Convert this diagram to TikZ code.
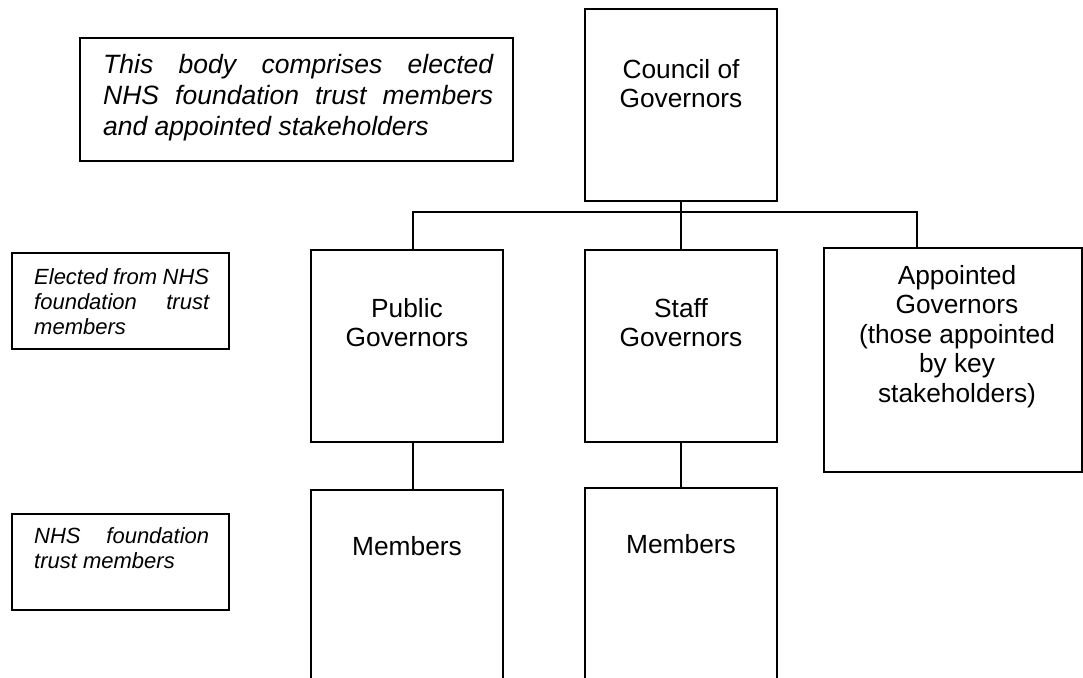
\documentclass[tikz,border=0pt]{standalone}
\usepackage{fontspec}
\setmainfont{Liberation Sans}
\hyphenpenalty=10000
\tolerance=10000
\begin{document}
\begin{tikzpicture}[x=1pt, y=-1pt, line join=miter]
	\tikzset{
	box/.style={draw, line width=2pt, inner sep=0pt, minimum width=192pt},
	link/.style={line width=1.7pt},
	lbl/.style={anchor=north, align=center, inner sep=0pt, font=\fontsize{26.3}{29.5}\selectfont},
	note/.style={anchor=north west, align=justify, inner sep=0pt, text width=175pt, font=\itshape\fontsize{22}{25}\selectfont}
	}
	\useasboundingbox (0,0) rectangle (1083,677);
	\node[box, minimum width=433pt, minimum height=123pt] (bodynote) at (296.5,99.5) {};
	\node[box, minimum width=217pt, minimum height=96pt] (electnote) at (120.5,301) {};
	\node[box, minimum width=217pt, minimum height=96pt] (membnote) at (120.5,562) {};
	\node[box, minimum height=191pt] (council) at (681,105) {};
	\node[box, minimum height=192pt] (public) at (407,346) {};
	\node[box, minimum height=192pt] (staff) at (681,346) {};
	\node[box, minimum width=258pt, minimum height=224pt] (appointed) at (953,360) {};
	\node[box, minimum height=200pt] (membersL) at (407,590) {};
	\node[box, minimum height=202pt] (membersR) at (681,589) {};
	\node[note, font=\itshape\fontsize{26.5}{31}\selectfont, text width=390pt] (bodytext) at (103,54) {This body comprises elected\linebreak NHS foundation trust members\linebreak and appointed stakeholders};
	\node[note] (electtext) at (34,268) {Elected from NHS\linebreak foundation trust\linebreak members};
	\node[note] (membtext) at (34,527) {NHS foundation\linebreak trust members};
	\node[lbl] (councilT) at (681,59) {Council of\\Governors};
	\node[lbl] (publicT) at (407,298) {Public\\Governors};
	\node[lbl] (staffT) at (681,298) {Staff\\Governors};
	\node[lbl] (appointedT) at (957,265) {Appointed\\Governors\\(those appointed\\by key\\stakeholders)};
	\node[lbl] (membersLT) at (407,536) {Members};
	\node[lbl] (membersRT) at (681,534) {Members};
	\coordinate (busL) at (413,212);
	\coordinate (busR) at (917,212);
	\draw[link] (busL |- public.north) -- (busL) -- (busR) -- (busR |- appointed.north);
	\draw[link] (council.south) -- (staff.north);
	\draw[link] (busL |- public.south) -- (busL |- membersL.north);
	\draw[link] (staff.south) -- (membersR.north);
\end{tikzpicture}
\end{document}
